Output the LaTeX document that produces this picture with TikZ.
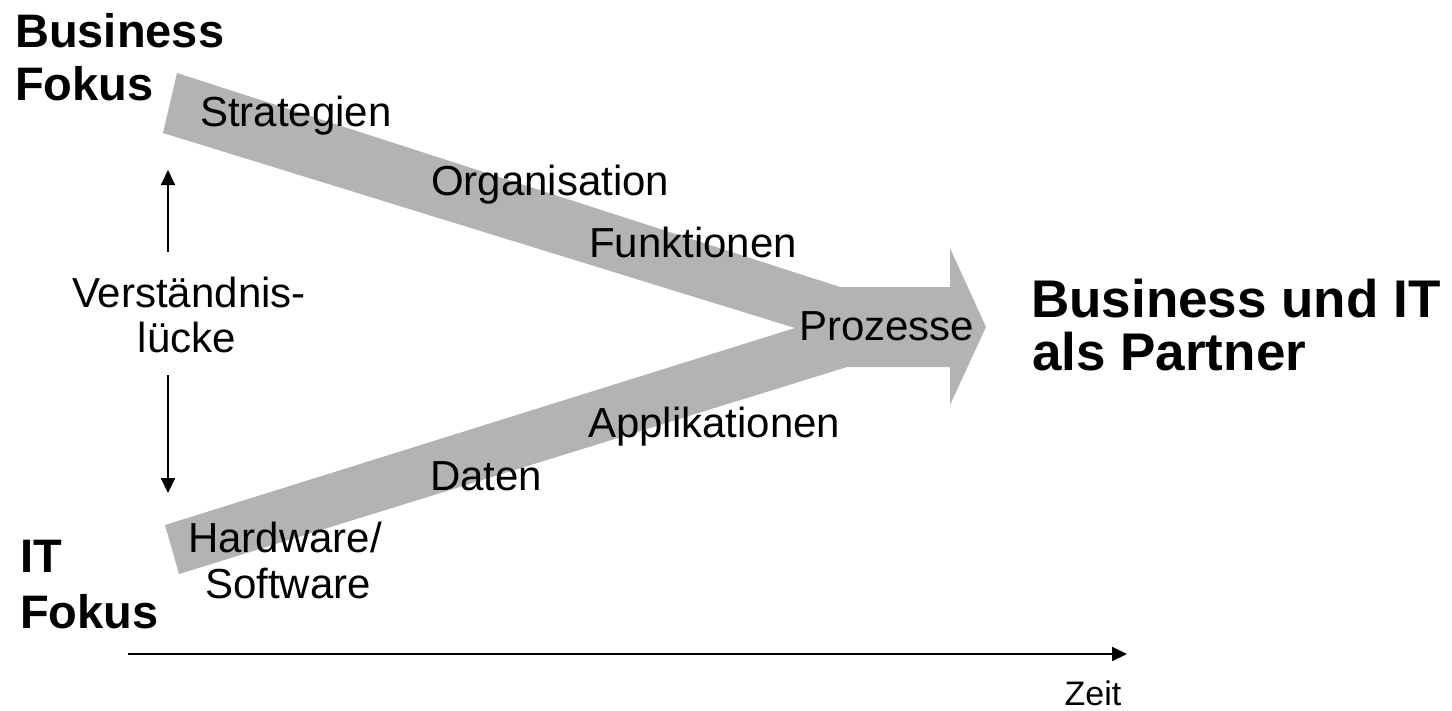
\documentclass[tikz,border=0pt]{standalone}
\usepackage{fontspec}
\setmainfont{Liberation Sans}
\usetikzlibrary{arrows.meta}
\definecolor{bandgray}{RGB}{179,179,179}
\tikzset{
  lbl/.style={font=\fontsize{42}{48}\selectfont, inner sep=0pt, anchor=base west},
  lblc/.style={font=\fontsize{42}{48}\selectfont, inner sep=0pt, anchor=base},
  focus/.style={font=\fontsize{47}{53}\selectfont\bfseries, inner sep=0pt, anchor=base west},
  partner/.style={font=\fontsize{53}{60}\selectfont\bfseries, inner sep=0pt, anchor=base west},
  small/.style={font=\fontsize{34}{40}\selectfont, inner sep=0pt, anchor=base},
  gaparrow/.style={line width=2pt, -{Triangle[length=15pt,width=14pt]}},
}
\begin{document}
\begin{tikzpicture}[x=1pt,y=-1pt]
\useasboundingbox (0,0) rectangle (1452,710);
% gray merging arrow
\fill[bandgray] (177,73) -- (840,287) -- (950,287) -- (950,248) -- (986,327)
  -- (950,405) -- (950,367) -- (847,367) -- (179,574) -- (165,525)
  -- (795,328) -- (163,133) -- cycle;
% labels on the band
\node[lbl] (strat) at (200,126) {Strategien};
\node[lbl] (org) at (431,195) {Organisation};
\node[lbl] (funk) at (589,257) {Funktionen};
\node[lbl] (proz) at (799,340) {Prozesse};
\node[lbl] (appl) at (588,437) {Applikationen};
\node[lbl] (dat) at (430,490) {Daten};
\node[lblc] (hw) at (285,552) {Hardware/};
\node[lblc] (sw) at (288,598) {Software};
% focus labels
\node[focus] (bus) at (15,47) {Business};
\node[focus] (bfok) at (15,100) {Fokus};
\node[focus] (it) at (20,572) {IT};
\node[focus] (ifok) at (20,628) {Fokus};
\node[partner] (bit) at (1031,317) {Business und IT};
\node[partner] (part) at (1032,370) {als Partner};
% gap
\node[lblc] (vers) at (189,307) {Verständnis-};
\node[lblc] (luck) at (187,352) {lücke};
\coordinate (upS) at (168,252);
\coordinate (upE) at (168,170);
\coordinate (dnS) at (168,375);
\coordinate (dnE) at (168,493);
\draw[gaparrow] (upS) -- (upE);
\draw[gaparrow] (dnS) -- (dnE);
% time axis
\coordinate (tS) at (128,654);
\coordinate (tE) at (1127,654);
\draw[gaparrow] (tS) -- (tE);
\node[small] (zeit) at (1093,705) {Zeit};
\end{tikzpicture}
\end{document}
